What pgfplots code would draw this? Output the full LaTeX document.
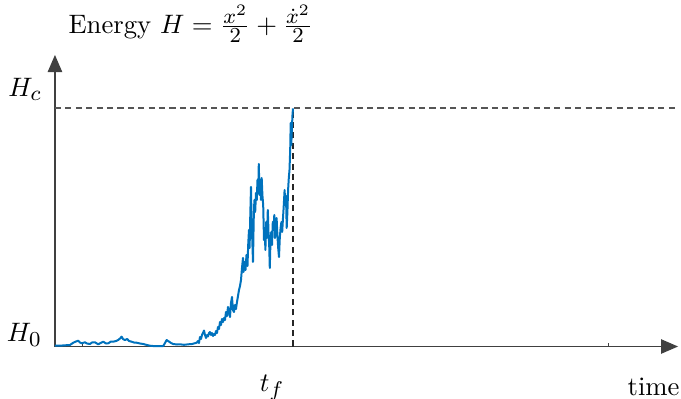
\documentclass[border=0pt]{standalone}
\usepackage{pgfplots}
\pgfplotsset{compat=1.18}
\usetikzlibrary{arrows.meta}
\DeclareMathSizes{10}{10}{8}{6}
\definecolor{axgray}{HTML}{404040}
\definecolor{mblue}{HTML}{0072BD}
\definecolor{dashgray}{HTML}{555555}
\begin{document}
\begin{tikzpicture}
\begin{axis}[
  scale only axis, width=233.6pt, height=109.3pt,
  xmin=0, xmax=623, ymin=0, ymax=291.5,
  axis lines=left,
  axis line style={draw=axgray, line width=0.45pt, -{Triangle[length=6.4pt,width=5.4pt]}},
  xtick={217}, xticklabels={$t_f$},
  ytick={11.6,256.6}, yticklabels={$H_0$,$H_c$},
  major tick length=0pt,
  xticklabel style={yshift=-7.1pt},
  yticklabel style={xshift=-1.4pt},
  extra x ticks={28,553}, extra x tick labels={},
  extra x tick style={major tick length=1.5pt, tick align=inside, tick style={axgray, line width=0.4pt}},
  title={Energy $H=\frac{x^2}{2}+\frac{\dot{x}^2}{2}$},
  title style={at={(axis description cs:0,1)}, anchor=base west, xshift=4.9pt, yshift=2pt, inner sep=0pt},
  xlabel={time},
  xlabel style={at={(axis description cs:1,0)}, anchor=base east, yshift=-18.3pt, xshift=0.75pt, inner sep=0pt},
  clip=false,
]
\coordinate (ll) at (rel axis cs:0,0);
\coordinate (ur) at (rel axis cs:1,1);
\addplot[dashgray, line width=0.45pt, dash pattern=on 2.3pt off 1.6pt] coordinates {(0,238.5) (623,238.5)};
\addplot[black!85, line width=0.4pt, dash pattern=on 2.3pt off 1.6pt] coordinates {(238,0) (238,238.5)};
\addplot[mblue, line width=0.75pt, line join=round] coordinates {
(0,0.8) (5,0.8) (10,1.2) (15,1.5) (18.3,3.8) (21,5) (23.3,5.8) (25,4) (26.7,3.2) (30,4.2) (32,3) (35,2.5)
(37,4) (40,4.2) (43.3,2.2) (46,3.7) (48.3,4.8) (51,3) (53.3,3.2) (56,5) (58.3,4.8) (61,5.5) (63.3,6.5)
(65,8) (66.7,9.8) (68,7.5) (70,6.5) (72.3,7.5) (74,5.5) (76.7,4.8) (79,4) (81.7,3.8) (85,3) (88.3,2.5)
(92,1.5) (95,0.8) (100,0.3) (105,0.3) (108.3,0.5) (110,3.5) (111.7,6.5) (113,5.5) (114.3,4.8) (116,3.5)
(118.3,2.5) (122,2) (125,2.2) (129,1.7) (133.3,2.2) (137,2.5) (141.7,3.8)
(143,5.5) (144,3.5) (145,9.5) (146,7.5) (147,11.5) (148,13.5) (149,16) (150,11.5) (151,8.5) (152,11.5)
(153,10) (154,13.5) (155,14.5) (156,11.5) (157,13.5) (158,10.5) (159,12.5) (160,11.5) (161,15.5)
(162,13.5) (163,19.5) (164,17.5) (165,24.5) (166,21.5) (167,27.5) (168,24.5) (169,28.5) (170,26.5)
(171,34.5) (172,30.5) (173,39.5) (174,34.5) (175,29.5) (176,43.5) (177,49.5) (178,36.5) (179,34.5)
(180,41.5) (181,37.5) (182,44.5) (183,50.5) (184,56.5) (185,60.5) (186,66.5) (187,78.5) (188,88.5)
(188.5,74.5) (189.5,84.5) (190.5,76.5) (191.5,91.5) (192.5,80.5) (193.2,101.5) (194,116.5) (194.6,98.5)
(195.3,131.5) (196,159.5) (196.6,121.5) (197.3,106.5) (198,84.5) (198.7,126.5) (199.4,146.5)
(200.2,134.5) (201,153.5) (201.8,146.5) (202.5,166.5) (203.3,158.5) (203.8,182.5) (204.5,151.5)
(205.2,166.5) (206,146.5) (206.7,168.5) (207.4,151.5) (208.2,141.5) (209,106.5) (209.7,118.5)
(210.4,96.5) (211.2,124.5) (212,108.5) (212.8,136.5) (213.5,114.5) (214.2,101.5) (214.8,78.5)
(215.5,106.5) (216.3,114.5) (217,101.5) (217.8,124.5) (218.5,116.5) (219.3,131.5) (220,108.5)
(220.8,120.5) (221.6,128.5) (222.4,111.5) (223.2,98.5) (224,89.5) (224.8,108.5) (225.6,118.5)
(226.4,124.5) (227.2,114.5) (228,128.5) (228.8,141.5) (229.6,156.5) (230.3,141.5) (231,150.5)
(231.7,118.5) (232.4,134.5) (233.1,156.5) (233.8,168.5) (234.5,176.5) (235.2,196.5) (235.7,223.5)
(236.3,201.5) (236.9,218.5) (237.5,231.5) (238,238)
};
\end{axis}
\pgfresetboundingbox
\path[use as bounding box] ([xshift=-20.6pt,yshift=-19.4pt]ll) rectangle ([xshift=1.1pt,yshift=20.6pt]ur);
\end{tikzpicture}
\end{document}
